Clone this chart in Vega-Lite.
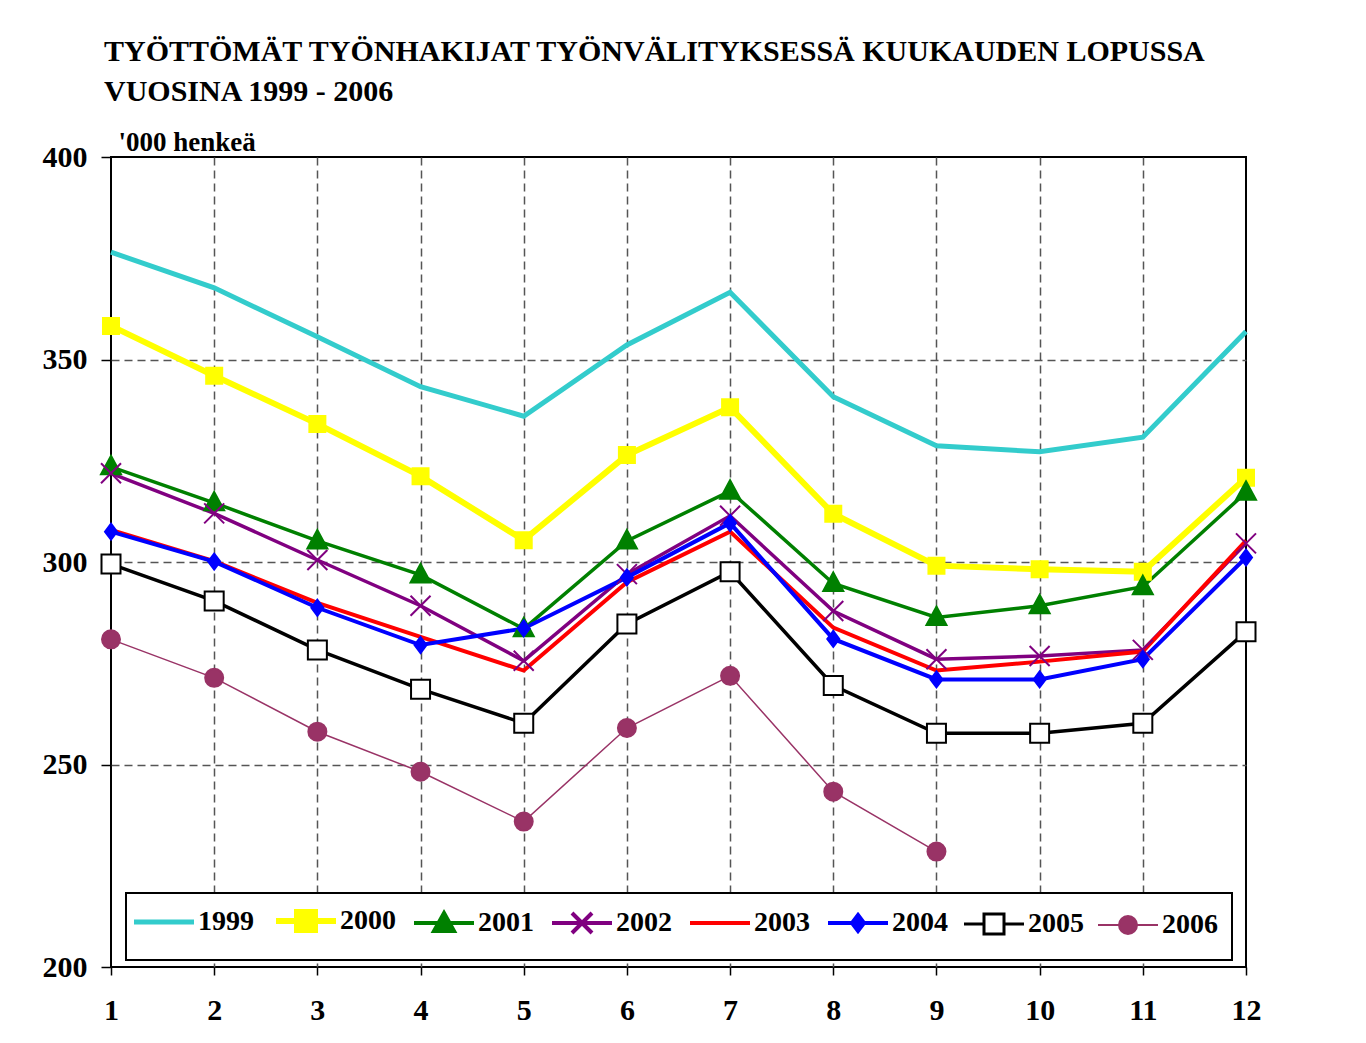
{
  "$schema": "https://vega.github.io/schema/vega-lite/v6.json",
  "width": 1135,
  "height": 810,
  "autosize": "none",
  "padding": {"left": 111, "top": 157, "right": 120, "bottom": 76},
  "background": "white",
  "config": {
    "view": {"stroke": "black", "strokeWidth": 2},
    "font": "Liberation Serif"
  },
  "title": {
    "text": ["TYÖTTÖMÄT TYÖNHAKIJAT TYÖNVÄLITYKSESSÄ KUUKAUDEN LOPUSSA", "VUOSINA 1999 - 2006"],
    "anchor": "start",
    "frame": "group",
    "dx": -7,
    "font": "Liberation Serif",
    "fontSize": 30,
    "fontWeight": "bold",
    "lineHeight": 40,
    "offset": 21,
    "color": "black"
  },
  "data": {
    "values": [
      {"m":1,"y":"1999","v":376.5},{"m":2,"y":"1999","v":367.7},{"m":3,"y":"1999","v":355.6},{"m":4,"y":"1999","v":343.3},{"m":5,"y":"1999","v":336.0},{"m":6,"y":"1999","v":353.6},{"m":7,"y":"1999","v":366.6},{"m":8,"y":"1999","v":340.8},{"m":9,"y":"1999","v":328.7},{"m":10,"y":"1999","v":327.2},{"m":11,"y":"1999","v":330.8},{"m":12,"y":"1999","v":356.9},
      {"m":1,"y":"2000","v":358.3},{"m":2,"y":"2000","v":346.0},{"m":3,"y":"2000","v":334.1},{"m":4,"y":"2000","v":321.2},{"m":5,"y":"2000","v":305.4},{"m":6,"y":"2000","v":326.4},{"m":7,"y":"2000","v":338.2},{"m":8,"y":"2000","v":311.9},{"m":9,"y":"2000","v":299.1},{"m":10,"y":"2000","v":298.2},{"m":11,"y":"2000","v":297.6},{"m":12,"y":"2000","v":320.8},
      {"m":1,"y":"2001","v":323.5},{"m":2,"y":"2001","v":314.6},{"m":3,"y":"2001","v":305.2},{"m":4,"y":"2001","v":296.8},{"m":5,"y":"2001","v":283.5},{"m":6,"y":"2001","v":305.2},{"m":7,"y":"2001","v":317.5},{"m":8,"y":"2001","v":294.7},{"m":9,"y":"2001","v":286.3},{"m":10,"y":"2001","v":289.2},{"m":11,"y":"2001","v":293.9},{"m":12,"y":"2001","v":317.2},
      {"m":1,"y":"2002","v":321.9},{"m":2,"y":"2002","v":312.0},{"m":3,"y":"2002","v":300.5},{"m":4,"y":"2002","v":289.2},{"m":5,"y":"2002","v":275.6},{"m":6,"y":"2002","v":297.0},{"m":7,"y":"2002","v":311.4},{"m":8,"y":"2002","v":287.9},{"m":9,"y":"2002","v":276.0},{"m":10,"y":"2002","v":276.8},{"m":11,"y":"2002","v":278.3},{"m":12,"y":"2002","v":304.6},
      {"m":1,"y":"2003","v":307.9},{"m":2,"y":"2003","v":300.2},{"m":3,"y":"2003","v":289.9},{"m":4,"y":"2003","v":281.5},{"m":5,"y":"2003","v":273.2},{"m":6,"y":"2003","v":295.0},{"m":7,"y":"2003","v":307.5},{"m":8,"y":"2003","v":283.8},{"m":9,"y":"2003","v":273.2},{"m":10,"y":"2003","v":275.4},{"m":11,"y":"2003","v":277.9},{"m":12,"y":"2003","v":305.3},
      {"m":1,"y":"2004","v":307.5},{"m":2,"y":"2004","v":300.1},{"m":3,"y":"2004","v":288.7},{"m":4,"y":"2004","v":279.5},{"m":5,"y":"2004","v":283.6},{"m":6,"y":"2004","v":296.2},{"m":7,"y":"2004","v":309.6},{"m":8,"y":"2004","v":281.0},{"m":9,"y":"2004","v":271.0},{"m":10,"y":"2004","v":271.0},{"m":11,"y":"2004","v":276.0},{"m":12,"y":"2004","v":301.1},
      {"m":1,"y":"2005","v":299.5},{"m":2,"y":"2005","v":290.4},{"m":3,"y":"2005","v":278.3},{"m":4,"y":"2005","v":268.6},{"m":5,"y":"2005","v":260.2},{"m":6,"y":"2005","v":284.7},{"m":7,"y":"2005","v":297.6},{"m":8,"y":"2005","v":269.5},{"m":9,"y":"2005","v":257.7},{"m":10,"y":"2005","v":257.7},{"m":11,"y":"2005","v":260.2},{"m":12,"y":"2005","v":282.8},
      {"m":1,"y":"2006","v":280.9},{"m":2,"y":"2006","v":271.4},{"m":3,"y":"2006","v":258.1},{"m":4,"y":"2006","v":248.2},{"m":5,"y":"2006","v":235.9},{"m":6,"y":"2006","v":259.0},{"m":7,"y":"2006","v":271.9},{"m":8,"y":"2006","v":243.3},{"m":9,"y":"2006","v":228.5}
    ]
  },
  "encoding": {
    "x": {
      "field": "m", "type": "quantitative",
      "scale": {"domain": [1, 12], "nice": false, "zero": false},
      "axis": {
        "title": null, "values": [1,2,3,4,5,6,7,8,9,10,11,12], "format": "d",
        "domain": false, "grid": true, "gridDash": [8, 5], "gridColor": "#555555", "gridWidth": 1.5,
        "gridOpacity": {"condition": {"test": "datum.value == 1 || datum.value == 12", "value": 0}, "value": 1},
        "ticks": true, "tickSize": 8, "tickColor": "black", "tickWidth": 1.5,
        "labelFont": "Liberation Serif", "labelFontSize": 30, "labelFontWeight": "bold", "labelColor": "black",
        "labelPadding": 20, "labelFlush": false
      }
    },
    "y": {
      "field": "v", "type": "quantitative",
      "scale": {"domain": [200, 400], "nice": false, "zero": false},
      "axis": {
        "title": "'000 henkeä", "titleAngle": 0, "titleAlign": "left", "titleBaseline": "alphabetic",
        "titleX": 7, "titleY": -7, "titleFont": "Liberation Serif", "titleFontSize": 27, "titleFontWeight": "bold", "titleColor": "black",
        "values": [200, 250, 300, 350, 400],
        "domain": false, "grid": true, "gridDash": [8, 5], "gridColor": "#555555", "gridWidth": 1.5,
        "gridOpacity": {"condition": {"test": "datum.value == 200 || datum.value == 400", "value": 0}, "value": 1},
        "ticks": true, "tickSize": 10, "tickColor": "black", "tickWidth": 1.5,
        "labelFont": "Liberation Serif", "labelFontSize": 30, "labelFontWeight": "bold", "labelColor": "black",
        "labelPadding": 14, "labelFlush": false
      }
    }
  },
  "layer": [
    {
      "mark": {"type": "line", "strokeJoin": "miter"},
      "encoding": {
        "color": {
          "field": "y", "type": "nominal",
          "scale": {
            "domain": ["1999","2000","2001","2002","2003","2004","2005","2006"],
            "range": ["#33CCCC","#FFFF00","#008000","#800080","#FF0000","#0000FF","#000000","#993366"]
          },
          "legend": {
            "orient": "none", "legendX": 15, "legendY": 736,
            "direction": "horizontal", "columns": 8, "title": null,
            "strokeColor": "black", "fillColor": "white", "padding": 14,
            "symbolType": "M-1,0H2", "symbolSize": 1600, "symbolStrokeWidth": 4,
            "labelFont": "Liberation Serif", "labelFontSize": 28, "labelFontWeight": "bold", "labelColor": "black",
            "labelOffset": 30, "columnPadding": 10,
            "encode": {
              "legend": {"update": {"strokeWidth": {"value": 2}}},
              "symbols": {
                "update": {
                  "shape": {"signal": "'M0.5,-0.65M0.5,0.65' + (datum.value == '2000' ? 'M-1,0H2M0.05,-0.45H0.95V0.45H0.05Z' : datum.value == '2001' ? 'M-1,0H2M0.5,-0.5L1,0.4H0Z' : datum.value == '2002' ? 'M-1,0H2M0,-0.5L1,0.5M0,0.5L1,-0.5' : datum.value == '2004' ? 'M-1,0H2M0.5,-0.4L0.8,0L0.5,0.4L0.2,0Z' : datum.value == '2005' ? 'M-1,0H0M1,0H2M0,-0.5H1V0.5H0Z' : datum.value == '2006' ? 'M-1,0H2M0.05,0A0.45,0.45 0 1,0 0.95,0A0.45,0.45 0 1,0 0.05,0Z' : 'M-1,0H2')"},
                  "fill": {"signal": "datum.value == '2000' ? '#FFFF00' : datum.value == '2001' ? '#008000' : datum.value == '2004' ? '#0000FF' : datum.value == '2005' ? '#FFFFFF' : datum.value == '2006' ? '#993366' : 'transparent'"},
                  "strokeWidth": {"signal": "datum.value == '1999' ? 5 : datum.value == '2000' ? 6 : datum.value == '2006' ? 2 : datum.value == '2005' ? 3 : 4"},
                  "opacity": {"value": 1}
                }
              }
            }
          }
        },
        "strokeWidth": {
          "condition": [
            {"test": "datum.y == '1999'", "value": 5},
            {"test": "datum.y == '2000'", "value": 6},
            {"test": "datum.y == '2003' || datum.y == '2004'", "value": 4},
            {"test": "datum.y == '2006'", "value": 1.5}
          ],
          "value": 3.5
        }
      }
    },
    {
      "transform": [{"filter": "datum.y != '1999' && datum.y != '2003'"}],
      "mark": {"type": "point", "size": 400, "strokeWidth": 2, "opacity": 1},
      "encoding": {
        "shape": {
          "field": "y", "type": "nominal",
          "scale": {
            "domain": ["2000","2001","2002","2004","2005","2006"],
            "range": ["M-0.8,-0.8H0.8V0.8H-0.8Z","M0,-1.1L1,0.75H-1Z","M-1,-1L1,1M-1,1L1,-1","M0,-0.8L0.6,0L0,0.8L-0.6,0Z","M-0.95,-0.95H0.95V0.95H-0.95Z","M-0.9,0A0.9,0.9 0 1,0 0.9,0A0.9,0.9 0 1,0 -0.9,0Z"]
          },
          "legend": null
        },
        "fill": {
          "field": "y", "type": "nominal",
          "scale": {
            "domain": ["2000","2001","2002","2004","2005","2006"],
            "range": ["#FFFF00","#008000","transparent","#0000FF","#FFFFFF","#993366"]
          },
          "legend": null
        },
        "stroke": {
          "field": "y", "type": "nominal",
          "scale": {
            "domain": ["2000","2001","2002","2004","2005","2006"],
            "range": ["#FFFF00","#008000","#800080","#0000FF","#000000","#993366"]
          },
          "legend": null
        }
      }
    }
  ]
}
